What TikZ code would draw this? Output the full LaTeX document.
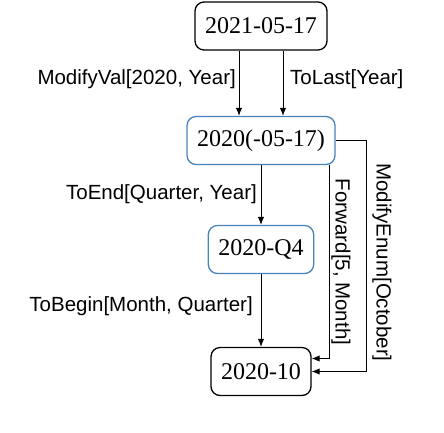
\documentclass[tikz,border=0pt]{standalone}
\usepackage{fontspec}
\setmainfont{Liberation Serif}
\setsansfont{Liberation Sans}
\usetikzlibrary{arrows.meta, positioning}
\definecolor{dateblue}{RGB}{70,130,190}

\begin{document}
\begin{tikzpicture}[x=1pt, y=1pt,
    datebox/.style={draw, rounded corners=9pt, line width=1.3pt, minimum height=48pt, inner xsep=10pt, font=\fontsize{24}{28}\selectfont},
    partbox/.style={datebox, draw=dateblue},
    oplabel/.style={font=\sffamily\fontsize{20.5}{24}\selectfont, inner sep=0pt},
    sidelabel/.style={oplabel, rotate=-90},
    flow/.style={-{Latex[length=8pt,width=6.5pt]}, line width=1pt}]
    \useasboundingbox (0,0) rectangle (444,-432);

    \node[datebox] (orig) at (261,-26) {2021-05-17};
    \node[partbox] (year) at (261,-140.5) {2020(-05-17)};
    \node[partbox] (quarter) at (261,-249.5) {2020-Q4};
    \node[datebox] (month) at (261,-371.5) {2020-10};

    \node[oplabel, anchor=east] (lmod) at (236,-79) {ModifyVal[2020, Year]};
    \node[oplabel, anchor=west] (llast) at (290,-79) {ToLast[Year]};
    \node[oplabel, anchor=east] (lend) at (257,-194) {ToEnd[Quarter, Year]};
    \node[oplabel, anchor=east] (lbeg) at (253,-306) {ToBegin[Month, Quarter]};
    \node[sidelabel] (lfwd) at (341,-262) {Forward[5, Month]};
    \node[sidelabel] (lenum) at (382,-262.5) {ModifyEnum[October]};

    \draw[flow] ([xshift=-22pt]orig.south) -- ([xshift=-22pt]year.north);
    \draw[flow] ([xshift=22pt]orig.south) -- ([xshift=22pt]year.north);
    \draw[flow] (year) -- (quarter);
    \draw[flow] (quarter) -- (month);
    % shortcuts straight to the month
    \draw[flow] ([xshift=-6pt]year.south east) |- ([yshift=13pt]month.east);
    \draw[flow] (year.east) -- ++(31,0) |- (month.east);
\end{tikzpicture}
\end{document}
